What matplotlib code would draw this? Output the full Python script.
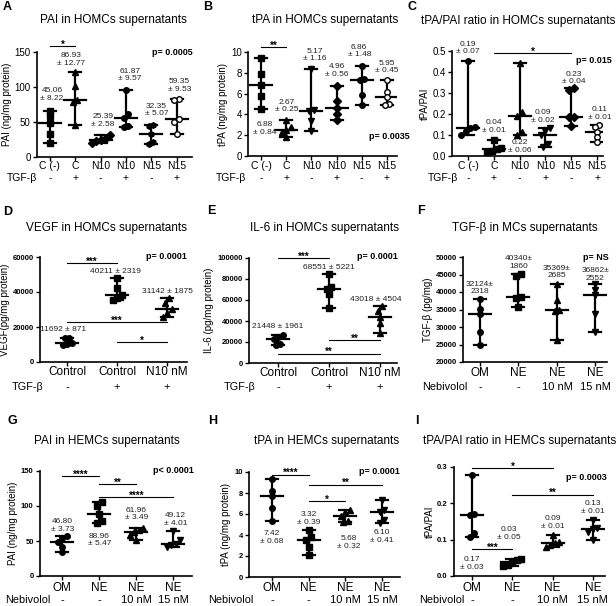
import numpy as np
import matplotlib.pyplot as plt

plt.rcParams['font.family'] = ['Liberation Sans', 'DejaVu Sans']

W, H = 616, 606

# ---------------- data ----------------
a_groups = ['C (-)', 'C', 'N10', 'N10', 'N15', 'N15']
a_tgf = ['-', '+', '-', '+', '-', '+']
a_vals = [[66, 58, 48, 33, 20], [121, 102, 81, 79, 46], [32, 26, 24, 23, 20],
          [96, 62, 56, 44, 43], [46, 44, 33, 21, 18], [83, 82, 55, 50, 33]]
a_notes = ['45.06\n± 8.22', '86.93\n± 12.77', '25.39\n± 2.58', '61.87\n± 9.57',
           '32.35\n± 5.07', '59.35\n± 9.53']
a_sig = [(0, 1, 158, '*')]
a_p = 'p= 0.0005'

b_vals = [[9.4, 7.86, 6.8, 5.8, 4.54], [3.45, 2.8, 2.5, 2.3, 1.8], [8.4, 4.4, 4.35, 3.4, 2.4],
          [6.7, 5.3, 4.57, 4.0, 3.5], [8.7, 7.4, 7.35, 5.9, 4.86], [7.28, 6.2, 5.69, 5.0, 4.86]]
b_notes = ['6.88\n± 0.84', '2.67\n± 0.25', '5.17\n± 1.16', '4.96\n± 0.56',
           '6.86\n± 1.48', '5.95\n± 0.45']
b_sig = [(0, 1, 10.5, '**')]
b_p = 'p= 0.0035'

c_vals = [[0.453, 0.14, 0.135, 0.12, 0.10], [0.075, 0.04, 0.031, 0.025, 0.02],
          [0.445, 0.21, 0.189, 0.115, 0.10], [0.135, 0.12, 0.099, 0.055, 0.044],
          [0.324, 0.315, 0.186, 0.185, 0.142], [0.146, 0.14, 0.115, 0.09, 0.068]]
c_notes = ['0.19\n± 0.07', '0.04\n± 0.01', '0.22\n± 0.06', '0.09\n± 0.02',
           '0.23\n± 0.04', '0.11\n± 0.01']
c_sig = [(1, 4, 0.49, '*')]
c_p = 'p= 0.015'

d_groups = ['Control', 'Control', 'N10 nM']
d_tgf = ['-', '+', '+']
d_vals = [[14000, 13800, 11000, 10200, 9500], [48000, 42500, 38300, 36300, 35400],
          [36400, 34000, 30300, 27900, 26000]]
d_notes = ['11692 ± 871', '40211 ± 2319', '31142 ± 1875']
d_sig = [(0, 1, 56400, '***'), (0, 2, 23000, '***'), (1, 2, 11200, '*')]
d_p = 'p= 0.0001'

e_vals = [[26700, 24800, 22500, 17900, 17100], [85000, 72500, 70200, 65500, 52500],
          [54000, 50000, 44000, 38500, 28500]]
e_notes = ['21448 ± 1961', '68551 ± 5221', '43018 ± 4504']
e_sig = [(0, 1, 99700, '***'), (1, 2, 21900, '**'), (0, 2, 8900, '**')]
e_p = 'p= 0.0001'

ne_groups = ['OM', 'NE', 'NE', 'NE']
ne_nebi = ['-', '-', '10 nM', '15 nM']

f_vals = [[37900, 35200, 33600, 28600, 25000], [45200, 44500, 38600, 38300, 35700],
          [42400, 37800, 35000, 34500, 26200], [42400, 40500, 39200, 33800, 28600]]
f_notes = ['32124±\n2318', '40340±\n1860', '35369±\n2685', '36862±\n2552']
f_p = 'p= NS'

g_vals = [[57, 55, 49, 41, 34], [106, 100, 89, 78, 76], [69, 66, 63, 58, 51], [64, 52, 46, 44, 42]]
g_notes = ['46.80\n± 3.73', '88.96\n± 5.47', '61.96\n± 3.49', '49.12\n± 4.01']
g_sig = [(0, 1, 143, '****'), (1, 2, 131, '**'), (1, 3, 113, '****')]
g_p = 'p< 0.0001'

h_vals = [[9.36, 8.2, 7.76, 6.55, 5.34], [4.47, 3.8, 3.5, 2.9, 2.14],
          [6.4, 6.2, 5.85, 5.3, 5.27], [7.35, 6.4, 6.23, 5.4, 5.18]]
h_notes = ['7.42\n± 0.68', '3.32\n± 0.39', '5.68\n± 0.32', '6.10\n± 0.41']
h_sig = [(0, 1, 9.75, '****'), (1, 3, 8.8, '**'), (1, 2, 7.25, '*')]
h_p = 'p= 0.0001'

i_vals = [[0.277, 0.17, 0.169, 0.117, 0.108], [0.048, 0.045, 0.0375, 0.03, 0.028],
          [0.112, 0.093, 0.09, 0.085, 0.08], [0.154, 0.133, 0.128, 0.12, 0.099]]
i_notes = ['0.17\n± 0.03', '0.03\n± 0.05', '0.09\n± 0.01', '0.13\n± 0.01']
i_sig = [(0, 2, 0.296, '*'), (1, 3, 0.224, '**'), (0, 1, 0.073, '***')]
i_p = 'p= 0.0003'

fig = plt.figure(figsize=(W / 100, H / 100), dpi=100)


def spread(v, i, dx, dy):
    # push overlapping points sideways like the prism scatter does
    order = np.argsort(v)
    xs = np.full(len(v), float(i))
    k = 0
    while k < len(order):
        j = k
        while j + 1 < len(order) and v[order[j + 1]] - v[order[j]] < 4.5 * dy:
            j += 1
        n = j - k + 1
        for m in range(n):
            xs[order[k + m]] = i + (m - (n - 1) / 2) * 4.5 * dx
        k = j + 1
    return xs


def panel(box, xlim, ylim, yticks, vals, markers, groups, row_name, row_x, marks,
          notes, note_pos, sig, ptext, ppos, title, title_xy, letter, letter_xy,
          ylabel, tick_y, row_y, big=True, fmt='%d', open_last=False, p_ha='right'):
    x0, x1, yt, yb = box
    ax = fig.add_axes([x0 / W, 1 - yb / H, (x1 - x0) / W, (yb - yt) / H])
    ax.set_xlim(xlim)
    ax.set_ylim(ylim)
    dx = (xlim[1] - xlim[0]) / (x1 - x0)
    dy = (ylim[1] - ylim[0]) / (yb - yt)

    for i, v in enumerate(vals):
        v = np.array(v, dtype=float)
        med = np.median(v)
        ax.plot([i - 11 * dx, i + 11 * dx], [med, med], color='k', lw=1.6, zorder=3)
        ax.plot([i, i], [v.min(), v.max()], color='k', lw=1.6, zorder=3)
        for end in (v.min(), v.max()):
            ax.plot([i - 6 * dx, i + 6 * dx], [end, end], color='k', lw=1.6, zorder=3)
        xs = spread(v, i, dx, dy)
        fc = 'white' if (open_last and i == len(vals) - 1) else 'k'
        ax.plot(xs, v, ls='none', marker=markers[i], ms=4, mfc=fc, mec='k', mew=1, zorder=4)

    for i, (t, (ox, yv)) in enumerate(zip(notes, note_pos)):
        ax.text(i + ox, yv, t, ha='center', va='center', fontsize=6, linespacing=1.15,
                color='#222222', clip_on=False)

    for a, b, y, star in sig:
        ax.plot([a, b], [y, y], color='k', lw=0.8, clip_on=False)
        ax.annotate(star, xy=((a + b) / 2, y), xytext=(0, -1.2), textcoords='offset points',
                    ha='center', va='baseline', fontsize=7, fontweight='bold',
                    annotation_clip=False)

    ax.text(ppos[0], ppos[1], ptext, ha=p_ha, va='center', fontsize=6.5,
            fontweight='bold', clip_on=False)

    for s in ('top', 'right'):
        ax.spines[s].set_visible(False)
    for s in ('left', 'bottom'):
        ax.spines[s].set_linewidth(1.2)

    ax.set_yticks(yticks)
    ax.set_yticklabels([fmt % t for t in yticks], fontsize=7 if big else 5.5,
                       fontweight='normal' if big else 'bold')
    ax.set_xticks(range(len(groups)))
    ax.set_xticklabels(groups, fontsize=7.5 if big else 8.5)
    ax.tick_params(axis='both', direction='out', length=3, width=1)
    ax.tick_params(axis='y', pad=1.5)
    ax.tick_params(axis='x', pad=max(0.0, (tick_y - 5 - yb) / 1.39 - 3))
    ax.set_ylabel(ylabel, fontsize=7, labelpad=2)

    # treatment row under the group names
    fy = (yb - row_y) / (yb - yt)
    for i, m in enumerate(marks):
        ax.text(i, fy, m, transform=ax.get_xaxis_transform(), ha='center', va='center',
                fontsize=7.5 if big else 8)
    fig.text(row_x / W, 1 - row_y / H, row_name, ha='center', va='center',
             fontsize=7.5 if big else 7.8)
    fig.text(title_xy[0] / W, 1 - title_xy[1] / H, title, ha='center', va='center', fontsize=8.5)
    fig.text(letter_xy[0] / W, 1 - letter_xy[1] / H, letter, ha='left', va='center',
             fontsize=9, fontweight='bold')
    return ax


m6a = ['s', '^', 'D', 'o', 'h', 'o']
m6b = ['s', '^', 'v', 'D', 'o', 'o']
m6c = ['o', 's', '^', 'v', 'D', 'o']
m3 = ['o', 's', '^']
m4 = ['o', 's', '^', 'v']

panel((37, 192, 52, 157), (-0.51, 5.61), (0, 150), [0, 50, 100, 150], a_vals, m6a,
      a_groups, 'TGF-β', 22, a_tgf, a_notes,
      [(0.08, 89), (-0.15, 139), (0.1, 52), (0.15, 117), (0.2, 67), (0.12, 102)],
      a_sig, a_p, (5.65, 150), 'PAI in HOMCs supernatants', (113, 20), 'A', (3, 7),
      'PAI (ng/mg protein)', 166, 178, open_last=True)

panel((248, 397, 52, 156), (-0.52, 5.4), (0, 10), [0, 2, 4, 6, 8, 10], b_vals, m6b,
      a_groups, 'TGF-β', 231, a_tgf, b_notes,
      [(0.15, 2.65), (0, 4.8), (0.15, 9.7), (0, 8.2), (-0.1, 10.1), (0, 8.55)],
      b_sig, b_p, (5.9, 1.85), 'tPA in HOMCs supernatants', (325, 20), 'B', (203, 7),
      'tPA (ng/mg protein)', 166, 178, open_last=True)

panel((452, 603, 51, 156), (-0.62, 5.23), (0, 0.5), [0, 0.1, 0.2, 0.3, 0.4, 0.5], c_vals, m6c,
      a_groups, 'TGF-β', 443, a_tgf, c_notes,
      [(0, 0.514), (0, 0.141), (0, 0.044), (-0.1, 0.189), (0.1, 0.371), (0.1, 0.204)],
      c_sig, c_p, (5.58, 0.453), 'tPA/PAI ratio in HOMCs supernatants', (518, 21), 'C', (408, 7),
      'tPA/PAI', 166, 178, fmt='%.1f', open_last=True)

panel((40, 187, 257, 362), (-0.54, 2.4), (0, 60000), [0, 20000, 40000, 60000], d_vals, m3,
      d_groups, 'TGF-β', 27, d_tgf, d_notes,
      [(-0.08, 18300), (-0.04, 52000), (0, 40200)],
      d_sig, d_p, (2.4, 60200), 'VEGF in HOMCs supernatants', (107, 228), 'D', (3, 212),
      'VEGF(pg/mg protein)', 371, 387, big=False)

panel((249, 397, 258, 363), (-0.57, 2.33), (0, 100000), [0, 20000, 40000, 60000, 80000, 100000],
      e_vals, m3, d_groups, 'TGF-β', 239, d_tgf, e_notes,
      [(0, 34600), (0, 90800), (-0.08, 60000)],
      e_sig, e_p, (2.35, 101000), 'IL-6 in HOMCs supernatants', (325, 228), 'E', (207, 211),
      'IL-6 (pg/mg protein)', 372, 387, big=False)

panel((463, 607, 257, 362), (-0.44, 3.3), (20000, 50000),
      [20000, 25000, 30000, 35000, 40000, 45000, 50000], f_vals, m4,
      ne_groups, 'Nebivolol', 445, ne_nebi, f_notes,
      [(0, 41140), (0, 48400), (0, 45700), (0, 45000)],
      [], f_p, (3.0, 50000), 'TGF-β in MCs supernatants', (525, 228), 'F', (417, 211),
      'TGF-β (pg/mg)', 372, 387, big=False, p_ha='center')

panel((40, 192, 471, 576), (-0.6, 3.5), (0, 150), [0, 50, 100, 150], g_vals, m4,
      ne_groups, 'Nebivolol', 28, ne_nebi, g_notes,
      [(0, 72), (0, 51.4), (0, 88.5), (0.05, 80.5)],
      g_sig, g_p, (3.54, 151), 'PAI in HEMCs supernatants', (107, 441), 'G', (8, 421),
      'PAI (ng/mg protein)', 587, 600, big=False)

panel((249, 400, 472, 577), (-0.63, 3.49), (0, 10), [0, 2, 4, 6, 8, 10], h_vals, m4,
      ne_groups, 'Nebivolol', 231, ne_nebi, h_notes,
      [(0, 3.74), (0, 5.56), (0.1, 3.29), (0, 3.83)],
      h_sig, h_p, (3.49, 10.06), 'tPA in HEMCs supernatants', (327, 441), 'H', (208, 421),
      'tPA (ng/mg protein)', 587, 600, big=False)

panel((454, 605, 467, 576), (-0.45, 3.3), (0, 0.3), [0, 0.1, 0.2, 0.3], i_vals, m4,
      ne_groups, 'Nebivolol', 442, ne_nebi, i_notes,
      [(0, 0.035), (-0.08, 0.117), (0, 0.147), (0, 0.189)],
      i_sig, i_p, (3.35, 0.27), 'tPA/PAI ratio in HEMCs supernatants', (520, 441), 'I', (415, 421),
      'tPA/PAI', 587, 600, fmt='%.1f', big=False)

fig.savefig('out.png', dpi=100)
